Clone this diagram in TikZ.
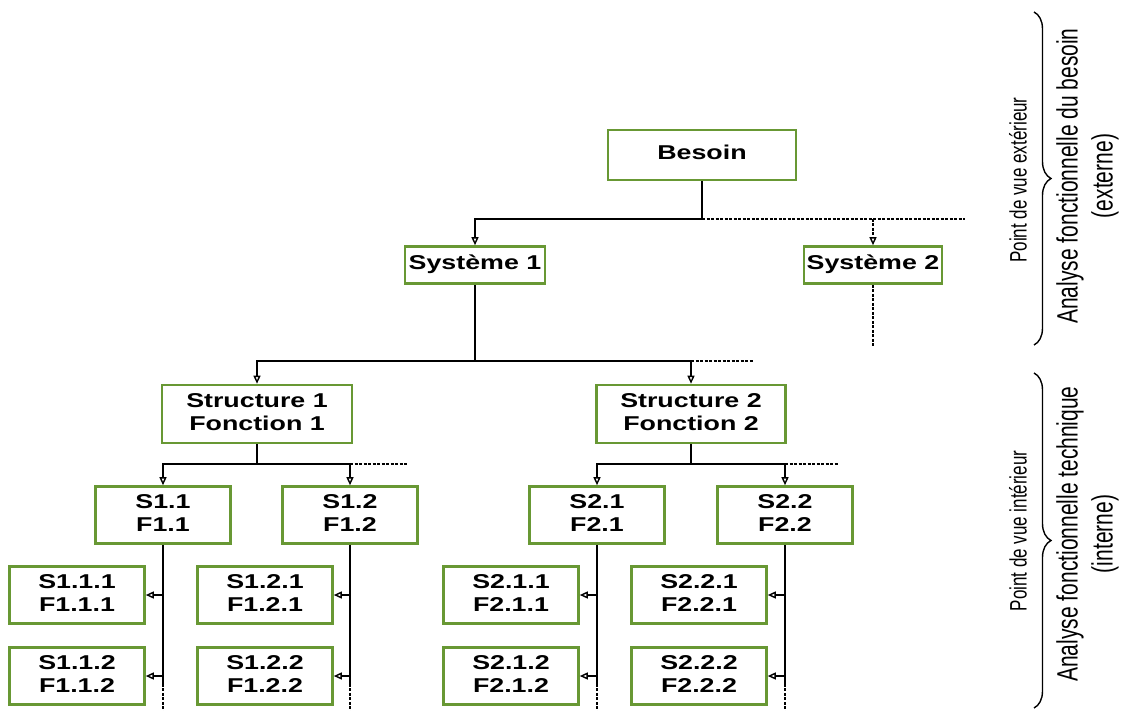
\documentclass[tikz,border=0pt]{standalone}
\usepackage{fontspec}
\setmainfont{Liberation Sans}
\usepackage{graphicx}
\usetikzlibrary{arrows.meta,decorations.pathreplacing,calc}
\definecolor{boxgreen}{RGB}{104,152,52}
\newcommand{\wtxt}[1]{\scalebox{1.34}[1]{\begin{tabular}{@{}c@{}}#1\end{tabular}}}
\newcommand{\vtxt}[1]{\scalebox{1}[1.4]{\begin{tabular}{@{}c@{}}#1\end{tabular}}}
\begin{document}
\begin{tikzpicture}[x=1pt,y=-1pt,
  box/.style={draw=boxgreen,line width=2.6pt,fill=white,inner sep=0pt,
    font=\bfseries\fontsize{20}{23}\selectfont},
  conn/.style={line width=1.5pt},
  heavy/.style={line width=2.4pt},
  dsh/.style={line width=1.3pt,dash pattern=on 3pt off 1.5pt},
  arr/.style={-{Triangle[open,length=8pt,width=7pt,line width=1.4pt]}},
  brc/.style={line width=1.4pt,decorate,decoration={brace,amplitude=17pt}},
  rot/.style={rotate=90,inner sep=0pt}]
\fill[white] (0,0) rectangle (1125,711);
\useasboundingbox (0,0) rectangle (1125,711);

% level 0-1
\node[box,minimum width=188pt,minimum height=50pt] (besoin) at (702,155) {\wtxt{Besoin}};
\node[box,minimum width=140pt,minimum height=37pt] (sys1) at (475,265) {\wtxt{Système 1}};
\node[box,minimum width=138pt,minimum height=37pt] (sys2) at (873,265) {\wtxt{Système 2}};
% level 2
\node[box,minimum width=190pt,minimum height=58pt] (st1) at (257,414) {\wtxt{Structure 1\\Fonction 1}};
\node[box,minimum width=189pt,minimum height=58pt] (st2) at (691,414) {\wtxt{Structure 2\\Fonction 2}};
% level 3
\foreach \n/\x/\a/\b in {s11/163/S1.1/F1.1, s12/350/S1.2/F1.2, s21/597/S2.1/F2.1, s22/785/S2.2/F2.2}
  \node[box,minimum width=135pt,minimum height=57pt] (\n) at (\x,515) {\wtxt{\a\\\b}};
% level 4
\foreach \n/\x/\y/\a/\b in {s111/77/595/S1.1.1/F1.1.1, s112/77/676/S1.1.2/F1.1.2,
    s121/265/595/S1.2.1/F1.2.1, s122/265/676/S1.2.2/F1.2.2,
    s211/511/595/S2.1.1/F2.1.1, s212/511/676/S2.1.2/F2.1.2,
    s221/699/595/S2.2.1/F2.2.1, s222/699/676/S2.2.2/F2.2.2}
  \node[box,minimum width=135pt,minimum height=57pt] (\n) at (\x,\y) {\wtxt{\a\\\b}};

% bus 1
\coordinate (j1) at (702,219);
\coordinate (e1) at (965,219);
\coordinate (e2) at (873,347);
\draw[heavy] (besoin.south) -- (j1);
\draw[conn,arr] (j1) -| (sys1.north);
\draw[dsh] (j1) -- (e1);
\draw[dsh,arr] (sys2.north |- j1) -- (sys2.north);
\draw[dsh] (sys2.south) -- (e2);

% bus 2
\coordinate (j2) at (475,361);
\coordinate (e3) at (753,361);
\draw[conn] (sys1.south) -- (j2);
\draw[conn,arr] (j2) -| (st1.north);
\draw[conn,arr] (j2) -| (st2.north);
\draw[dsh] (st2.north |- j2) -- (e3);

% bus 3
\coordinate (j3) at (257,464);
\coordinate (e4) at (407,464);
\coordinate (j4) at (691,464);
\coordinate (e5) at (838,464);
\draw[heavy] (st1.south) -- (j3);
\draw[conn,arr] (j3) -| (s11.north);
\draw[conn,arr] (j3) -| (s12.north);
\draw[dsh] (s12.north |- j3) -- (e4);
\draw[heavy] (st2.south) -- (j4);
\draw[conn,arr] (j4) -| (s21.north);
\draw[conn,arr] (j4) -| (s22.north);
\draw[dsh] (s22.north |- j4) -- (e5);

% vertical spines with side arrows
\foreach \p/\u/\v in {s11/s111/s112, s12/s121/s122, s21/s211/s212, s22/s221/s222}{
  \coordinate (\p m) at ($(\p.south)+(0,139)$);
  \coordinate (\p b) at ($(\p.south)+(0,168)$);
  \draw[heavy] (\p.south) -- (\p m);
  \draw[dsh] (\p m) -- (\p b);
  \draw[conn,arr] (\p.south |- \u.east) -- (\u.east);
  \draw[conn,arr] (\p.south |- \v.east) -- (\v.east);
}

% braces and side labels
\draw[brc] (1034,12) -- (1034,345);
\draw[brc] (1034,373) -- (1034,708);
\node[rot,font=\fontsize{17}{20}\selectfont] (pve) at (1021,180) {\vtxt{Point de vue extérieur}};
\node[rot,font=\fontsize{21}{25}\selectfont] (afb) at (1088,176) {\vtxt{Analyse fonctionnelle du besoin\\(externe)}};
\node[rot,font=\fontsize{17}{20}\selectfont] (pvi) at (1021,531) {\vtxt{Point de vue intérieur}};
\node[rot,font=\fontsize{21}{25}\selectfont] (aft) at (1088,534) {\vtxt{Analyse fonctionnelle technique\\(interne)}};
\end{tikzpicture}
\end{document}
